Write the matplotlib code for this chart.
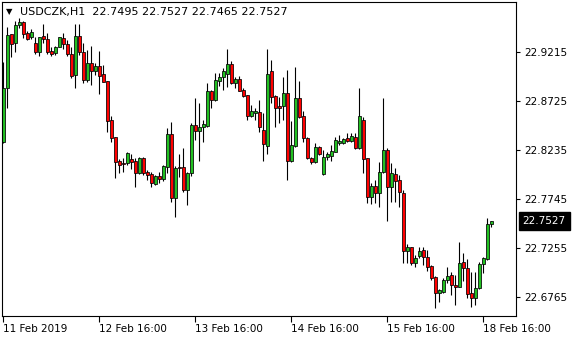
import matplotlib
matplotlib.use('Agg')
import matplotlib.pyplot as plt
import matplotlib.transforms as mtransforms
import numpy as np

# USDCZK H1 bars
open_ = [22.8320, 22.8854, 22.9394, 22.9304, 22.9484, 22.9514, 22.9402, 22.9364, 22.9310, 22.9220,
         22.9374, 22.9344, 22.9230, 22.9204, 22.9270, 22.9357, 22.9294, 22.9197, 22.8990, 22.9377,
         22.9220, 22.8937, 22.9110, 22.9030, 22.9077, 22.8997, 22.8927, 22.8537, 22.8364, 22.8127,
         22.8104, 22.8104, 22.8147, 22.8127, 22.8010, 22.8154, 22.8014, 22.7994, 22.7894, 22.7977,
         22.7944, 22.8070, 22.8397, 22.7754, 22.8070, 22.8064, 22.7837, 22.8004, 22.8487, 22.8430,
         22.8464, 22.8480, 22.8827, 22.8737, 22.8930, 22.8964, 22.8994, 22.9097, 22.8910, 22.8944,
         22.8837, 22.8787, 22.8580, 22.8610, 22.8614, 22.8437, 22.8280, 22.9027, 22.8777, 22.8680,
         22.8680, 22.8804, 22.8127, 22.8280, 22.8754, 22.8574, 22.8354, 22.8160, 22.8114, 22.8264,
         22.7994, 22.8170, 22.8180, 22.8220, 22.8310, 22.8310, 22.8354, 22.8327, 22.8370, 22.8254,
         22.8537, 22.8154, 22.7770, 22.7877, 22.7804, 22.8020, 22.8237, 22.7870, 22.7994, 22.7937,
         22.7804, 22.7230, 22.7264, 22.7110, 22.7177, 22.7237, 22.7164, 22.7077, 22.6970, 22.6810,
         22.6820, 22.6937, 22.6987, 22.6887, 22.6870, 22.7114, 22.7054, 22.6804, 22.6754, 22.6854,
         22.7097, 22.7147, 22.7495]
high = [22.9120, 22.9470, 22.9397, 22.9530, 22.9554, 22.9530, 22.9427, 22.9444, 22.9370, 22.9370,
        22.9494, 22.9404, 22.9270, 22.9280, 22.9370, 22.9404, 22.9337, 22.9270, 22.9497, 22.9497,
        22.9304, 22.9237, 22.9280, 22.9104, 22.9230, 22.9087, 22.8927, 22.8577, 22.8364, 22.8147,
        22.8154, 22.8214, 22.8194, 22.8154, 22.8170, 22.8170, 22.8037, 22.8014, 22.7987, 22.8020,
        22.8087, 22.8454, 22.8520, 22.8077, 22.8197, 22.8260, 22.8020, 22.8510, 22.8760, 22.8710,
        22.8537, 22.8910, 22.8837, 22.9010, 22.9004, 22.9054, 22.9247, 22.9127, 22.8970, 22.8977,
        22.8860, 22.8787, 22.8687, 22.8654, 22.8732, 22.8607, 22.9247, 22.9137, 22.8787, 22.8767,
        22.8964, 22.9037, 22.8527, 22.9064, 22.8927, 22.8627, 22.8370, 22.8170, 22.8304, 22.8277,
        22.8237, 22.8220, 22.8287, 22.8370, 22.8387, 22.8360, 22.8404, 22.8410, 22.8404, 22.8860,
        22.8570, 22.8154, 22.7904, 22.7937, 22.8114, 22.8760, 22.8260, 22.8104, 22.8054, 22.7987,
        22.7837, 22.7297, 22.7267, 22.7187, 22.7264, 22.7264, 22.7237, 22.7087, 22.6977, 22.6844,
        22.6960, 22.7070, 22.7020, 22.6987, 22.7320, 22.7204, 22.7144, 22.7020, 22.7020, 22.7120,
        22.7170, 22.7554, 22.7527]
low = [22.8307, 22.8654, 22.9164, 22.9220, 22.9454, 22.9354, 22.9337, 22.9347, 22.9194, 22.9180,
       22.9304, 22.9194, 22.9180, 22.9187, 22.9264, 22.9247, 22.9180, 22.8954, 22.8854, 22.9187,
       22.8904, 22.8920, 22.8887, 22.8987, 22.8797, 22.8917, 22.8420, 22.8320, 22.7954, 22.8004,
       22.8020, 22.8087, 22.8047, 22.7870, 22.7994, 22.7987, 22.7937, 22.7870, 22.7887, 22.7910,
       22.7930, 22.8004, 22.7720, 22.7570, 22.7970, 22.7817, 22.7687, 22.7977, 22.8332, 22.8130,
       22.8320, 22.8464, 22.8654, 22.8730, 22.8877, 22.8837, 22.8870, 22.8897, 22.8854, 22.8827,
       22.8770, 22.8537, 22.8570, 22.8537, 22.8412, 22.8127, 22.8202, 22.8707, 22.8470, 22.8504,
       22.8537, 22.7937, 22.8120, 22.8270, 22.8554, 22.8317, 22.8147, 22.8094, 22.8104, 22.8187,
       22.7987, 22.8137, 22.8127, 22.8214, 22.8287, 22.8294, 22.8320, 22.8320, 22.8247, 22.8247,
       22.8004, 22.7704, 22.7694, 22.7704, 22.7670, 22.8004, 22.7527, 22.7720, 22.7720, 22.7670,
       22.7110, 22.7110, 22.7087, 22.7064, 22.7154, 22.7087, 22.7030, 22.6937, 22.6654, 22.6720,
       22.6810, 22.6910, 22.6787, 22.6687, 22.6870, 22.6930, 22.6754, 22.6664, 22.6687, 22.6844,
       22.7004, 22.7137, 22.7465]
close = [22.8854, 22.9387, 22.9294, 22.9487, 22.9514, 22.9394, 22.9352, 22.9414, 22.9220, 22.9364,
         22.9344, 22.9220, 22.9197, 22.9270, 22.9364, 22.9294, 22.9194, 22.8980, 22.9377, 22.9220,
         22.8937, 22.9110, 22.9030, 22.9077, 22.8980, 22.8920, 22.8530, 22.8354, 22.8120, 22.8087,
         22.8094, 22.8204, 22.8120, 22.8010, 22.8154, 22.8010, 22.7987, 22.7904, 22.7977, 22.7944,
         22.8077, 22.8397, 22.7754, 22.8054, 22.8054, 22.7837, 22.8004, 22.8487, 22.8430, 22.8464,
         22.8497, 22.8827, 22.8737, 22.8937, 22.8970, 22.9030, 22.9097, 22.8910, 22.8944, 22.8830,
         22.8780, 22.8580, 22.8627, 22.8630, 22.8464, 22.8294, 22.8997, 22.8770, 22.8660, 22.8660,
         22.8804, 22.8132, 22.8287, 22.8754, 22.8564, 22.8354, 22.8160, 22.8120, 22.8264, 22.8194,
         22.8164, 22.8194, 22.8227, 22.8337, 22.8327, 22.8347, 22.8330, 22.8377, 22.8254, 22.8577,
         22.8144, 22.7770, 22.7877, 22.7804, 22.8020, 22.8237, 22.7870, 22.8004, 22.7927, 22.7814,
         22.7230, 22.7264, 22.7110, 22.7154, 22.7227, 22.7164, 22.7070, 22.6960, 22.6810, 22.6837,
         22.6937, 22.6977, 22.6887, 22.6870, 22.7104, 22.7054, 22.6797, 22.6754, 22.6854, 22.7097,
         22.7154, 22.7497, 22.7527]

ytick_vals = [22.9215, 22.8725, 22.8235, 22.7745, 22.7255, 22.6765]
xtick_bars = [0, 24, 48, 72, 96, 120]
xtick_labels = ['11 Feb 2019', '12 Feb 16:00', '13 Feb 16:00', '14 Feb 16:00',
                '15 Feb 16:00', '18 Feb 16:00']
symbol = 'USDCZK,H1'

o = np.array(open_)
h = np.array(high)
l = np.array(low)
c = np.array(close)
x = np.arange(len(o))

fig = plt.figure(figsize=(5.8, 3.4), dpi=100)
ax = fig.add_axes([2 / 580, 24 / 340, 514 / 580, 314 / 340])

ax.vlines(x, l, h, color='black', linewidth=0.8, zorder=1)
up = c >= o
colors = np.where(up, '#22c022', '#ff0000')
ax.bar(x, np.abs(c - o), bottom=np.minimum(o, c), width=0.78, color=colors,
       edgecolor='black', linewidth=0.55, zorder=2)

ax.set_xlim(-0.325, 128.2)
ax.set_ylim(22.6577, 22.9717)

ax.yaxis.tick_right()
ax.set_yticks(ytick_vals)
ax.set_yticklabels(['{:.4f}'.format(v) for v in ytick_vals])
ax.tick_params(axis='y', direction='out', length=3, width=0.8, pad=3, labelsize=7.5)
ax.set_xticks(xtick_bars)
ax.set_xticklabels(xtick_labels, ha='left')
ax.tick_params(axis='x', direction='out', length=4, width=0.8, pad=2, labelsize=7.5)
for sp in ax.spines.values():
    sp.set_linewidth(0.8)
    sp.set_color('black')

# current price label
trans = mtransforms.blended_transform_factory(ax.transAxes, ax.transData)
ax.text(1.013, c[-1], '{:.4f}'.format(c[-1]), transform=trans, color='white',
        fontsize=7.5, va='center', ha='left',
        bbox=dict(facecolor='black', edgecolor='black', boxstyle='square,pad=0.4'))

fig.text(6 / 580, 1 - 12 / 340, '\u25BC', fontsize=6, va='center', ha='left')
fig.text(20 / 580, 1 - 12 / 340,
         '{}  {:.4f} {:.4f} {:.4f} {:.4f}'.format(symbol, o[-1], h[-1], l[-1], c[-1]),
         fontsize=8, va='center', ha='left')

fig.savefig('out.png', dpi=100)
